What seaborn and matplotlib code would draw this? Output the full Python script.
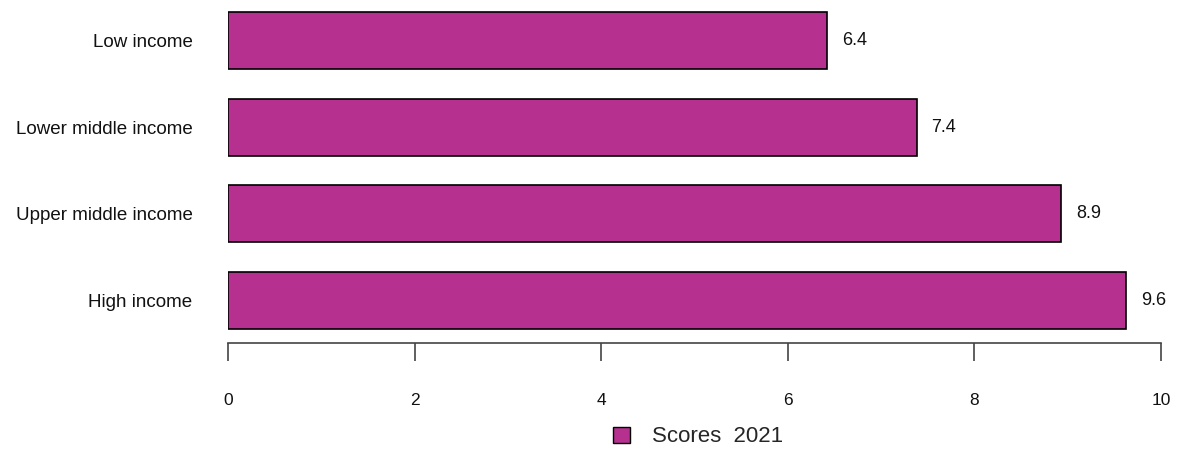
import pandas as pd
import seaborn as sns
import matplotlib
matplotlib.use('Agg')
from matplotlib import pyplot as plt
from matplotlib.patches import Patch

# Data
groups = ['Low income', 'Lower middle income', 'Upper middle income', 'High income']
scores = [6.42, 7.38, 8.93, 9.63]
series_name = 'Scores  2021'
xticks = [0, 2, 4, 6, 8, 10]

bar_color = '#B5308F'

sns.set_style('white')
plt.rcParams['font.family'] = ['Liberation Sans', 'DejaVu Sans']

df = pd.DataFrame({'group': groups, 'score': scores})

fig = plt.figure(figsize=(11.79, 4.54), dpi=100)
ax = fig.add_axes([0.1934, 0.2445, 0.7913, 0.7555])

sns.barplot(data=df, x='score', y='group', orient='h', color=bar_color, saturation=1,
            edgecolor='black', linewidth=1.2, width=0.66, ax=ax)

# value labels to the right of each bar
for i, v in enumerate(scores):
    ax.text(v + 0.16, i, f'{v:.1f}', va='center', ha='left', fontsize=13,
            color='#111111', clip_on=False)

ax.set_xlim(0, 10)
ax.set_ylim(3.49, -0.467)
ax.set_xticks(xticks)
ax.set_xlabel('')
ax.set_ylabel('')

for s in ['top', 'right', 'left']:
    ax.spines[s].set_visible(False)
ax.spines['bottom'].set_color('#444444')
ax.spines['bottom'].set_linewidth(1.2)

ax.tick_params(axis='x', bottom=True, length=13, width=1.2, color='#444444',
               pad=23, labelsize=12.5, labelcolor='#111111')
ax.tick_params(axis='y', left=False, pad=22, labelsize=13.5, labelcolor='#111111')

handle = Patch(facecolor=bar_color, edgecolor='black', linewidth=1.0)
fig.legend([handle], [series_name], loc='center', bbox_to_anchor=(698 / 1179, 1 - 437 / 454),
           frameon=False, fontsize=16, handlelength=0.75, handleheight=0.75, handletextpad=1.0)

fig.savefig('out.png', dpi=100)
